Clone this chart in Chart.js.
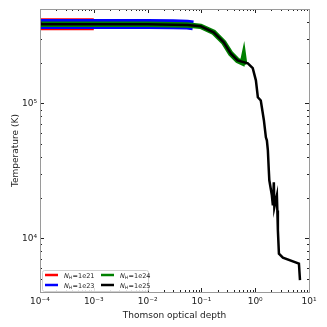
<!DOCTYPE html>
<html>
<head>
<meta charset="utf-8">
<script src="https://cdn.jsdelivr.net/npm/chart.js@4/dist/chart.umd.min.js"></script>
<style>
  body { margin: 0; background: #fff; }
  canvas { display: block; }
</style>
</head>
<body>
<canvas id="chart" width="327" height="327"></canvas>
<script>
// values
const labels = ['1e21', '1e23', '1e24', '1e25'];
const colors = ['#ff0000', '#0000ff', '#008000', '#000000'];
const widths = [12, 10, 5.5, 2.5];

const tau21 = [1e-4, 3e-4, 1e-3];
const temp21 = [3.86e5, 3.86e5, 3.86e5];

const tau23 = [1e-4, 1e-3, 1e-2, 0.03, 0.055, 0.07];
const temp23 = [3.87e5, 3.87e5, 3.87e5, 3.86e5, 3.83e5, 3.78e5];

const tau24 = [1e-4, 1e-3, 1e-2, 0.055, 0.097, 0.169, 0.26, 0.35, 0.47, 0.58, 0.61, 0.63, 0.66];
const temp24 = [3.85e5, 3.85e5, 3.85e5, 3.8e5, 3.72e5, 3.36e5, 2.83e5, 2.34e5, 2.08e5, 2.0e5, 2.2e5, 2.0e5, 1.93e5];

const tau25 = [1e-4, 1e-3, 1e-2, 0.055, 0.097, 0.169, 0.26, 0.35, 0.47, 0.73, 0.90, 1.03, 1.12, 1.27,
  1.45, 1.58, 1.65, 1.72, 1.79, 1.83, 2.04, 2.13, 2.22, 2.27, 2.53, 2.58, 2.64, 2.76, 3.27, 6.5, 6.8];
const temp25 = [3.85e5, 3.85e5, 3.85e5, 3.8e5, 3.72e5, 3.36e5, 2.83e5, 2.34e5, 2.08e5, 1.98e5, 1.82e5, 1.48e5, 1.11e5, 1.05e5,
  7.5e4, 5.6e4, 5.3e4, 4.49e4, 3.19e4, 2.69e4, 2.08e4, 1.75e4, 2.6e4, 1.7e4, 2.08e4, 1.61e4, 1.15e4, 7.7e3, 7.2e3, 6.5e3, 4.9e3];

const xMajor = [1e-4, 1e-3, 1e-2, 1e-1, 1, 10];
const yMajor = [1e4, 1e5];

const FONT = 'DejaVu Sans';
const sup = {'-': '\u207B', '0': '\u2070', '1': '\u00B9', '2': '\u00B2', '3': '\u00B3', '4': '\u2074', '5': '\u2075'};
const powLabel = v => '10' + String(Math.round(Math.log10(v))).split('').map(c => sup[c]).join('');

const toPts = (xs, ys) => xs.map((x, i) => ({x: x, y: ys[i]}));
const series = [[tau21, temp21], [tau23, temp23], [tau24, temp24], [tau25, temp25]];

// matplotlib style: inward ticks on all four sides, grey frame, legend inside
const frameTicks = {
  id: 'frameTicks',
  afterDraw(chart) {
    const {ctx, chartArea: a, scales: {x, y}} = chart;
    ctx.save();
    ctx.strokeStyle = '#222';
    ctx.lineWidth = 1;
    const tick = (x1, y1, x2, y2) => { ctx.beginPath(); ctx.moveTo(x1, y1); ctx.lineTo(x2, y2); ctx.stroke(); };
    for (let d = -4; d <= 1; d++) {
      for (let m = 1; m <= 9; m++) {
        const v = m * Math.pow(10, d);
        if (v > 10.0001) continue;
        const px = Math.round(x.getPixelForValue(v)) + 0.5;
        const len = m === 1 ? 4 : 2;
        tick(px, a.bottom, px, a.bottom - len);
        tick(px, a.top, px, a.top + len);
      }
    }
    for (let d = 3; d <= 5; d++) {
      for (let m = 1; m <= 9; m++) {
        const v = m * Math.pow(10, d);
        if (v < 4000 || v > 5e5) continue;
        const py = Math.round(y.getPixelForValue(v)) + 0.5;
        const len = m === 1 ? 4 : 2;
        tick(a.left, py, a.left + len, py);
        tick(a.right, py, a.right - len, py);
      }
    }
    ctx.strokeStyle = '#9a9a9a';
    ctx.strokeRect(Math.round(a.left) + 0.5, Math.round(a.top) + 0.5,
      Math.round(a.right - a.left), Math.round(a.bottom - a.top));

    // legend box, two columns
    const bx = a.left + 2, by = a.bottom - 22, bw = 106, bh = 21;
    ctx.fillStyle = 'rgba(255,255,255,0.85)';
    ctx.strokeStyle = '#d0d0d0';
    ctx.beginPath();
    ctx.roundRect(bx + 0.5, by + 0.5, bw, bh, 2);
    ctx.fill();
    ctx.stroke();
    chart.data.datasets.forEach((ds, i) => {
      const col = Math.floor(i / 2), row = i % 2;
      const hx = bx + 3 + col * 56, hy = by + 5 + row * 10;
      ctx.strokeStyle = ds.borderColor;
      ctx.lineWidth = 2.5;
      tick(hx, hy, hx + 13, hy);
      ctx.fillStyle = '#222';
      ctx.textBaseline = 'alphabetic';
      let tx = hx + 19;
      ctx.font = 'italic 6.5px "' + FONT + '"';
      ctx.fillText('N', tx, hy + 2.5);
      tx += ctx.measureText('N').width;
      ctx.font = '4.5px "' + FONT + '"';
      ctx.fillText('H', tx, hy + 4);
      tx += ctx.measureText('H').width + 0.3;
      ctx.font = '6.5px "' + FONT + '"';
      ctx.fillText('=' + labels[i], tx, hy + 2.5);
    });
    ctx.restore();
  }
};

new Chart(document.getElementById('chart'), {
  type: 'line',
  data: {
    datasets: series.map((s, i) => ({
      label: labels[i],
      data: toPts(s[0], s[1]),
      borderColor: colors[i],
      backgroundColor: colors[i],
      borderWidth: widths[i],
      order: 3 - i, // later series on top
      pointRadius: 0,
      tension: 0,
      fill: false
    }))
  },
  options: {
    responsive: false,
    devicePixelRatio: 1,
    animation: false,
    layout: {padding: {top: 9, right: 18, left: 0, bottom: 0}},
    plugins: {legend: {display: false}, tooltip: {enabled: false}},
    scales: {
      x: {
        type: 'logarithmic',
        min: 1e-4,
        max: 10,
        grid: {display: false, drawTicks: false},
        border: {display: false},
        afterBuildTicks: s => { s.ticks = xMajor.map(v => ({value: v})); },
        afterFit: s => { s.height = 35; },
        ticks: {
          autoSkip: false, maxRotation: 0, padding: 4, color: '#222',
          font: {family: FONT, size: 9},
          callback: v => powLabel(v)
        },
        title: {
          display: true, text: 'Thomson optical depth', color: '#222',
          font: {family: FONT, size: 9}, padding: {top: 0, bottom: 6}
        }
      },
      y: {
        type: 'logarithmic',
        min: 4000,
        max: 5e5,
        grid: {display: false, drawTicks: false},
        border: {display: false},
        afterBuildTicks: s => { s.ticks = yMajor.map(v => ({value: v})); },
        afterFit: s => { s.width = 40; },
        ticks: {
          autoSkip: false, padding: 3, color: '#222',
          font: {family: FONT, size: 9},
          callback: v => powLabel(v)
        },
        title: {
          display: true, text: 'Temperature (K)', color: '#222',
          font: {family: FONT, size: 9}, padding: {top: 10, bottom: 0}
        }
      }
    }
  },
  plugins: [frameTicks]
});
</script>
</body>
</html>
